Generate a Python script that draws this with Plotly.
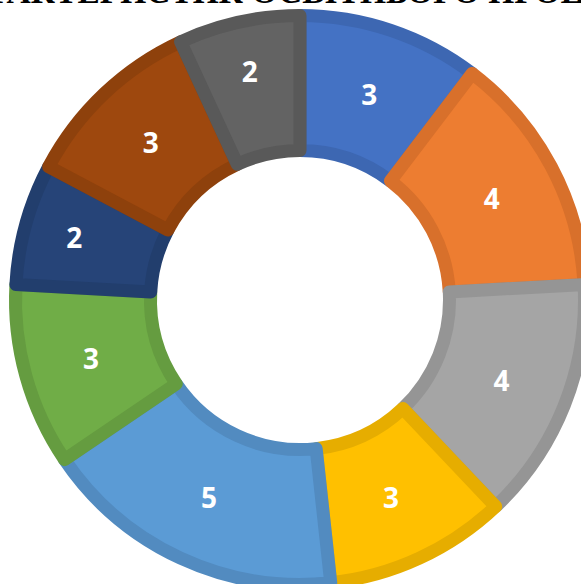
import plotly.graph_objects as go

# Data (clockwise from 12 o'clock)
categories = ["Показник 1", "Показник 2", "Показник 3", "Показник 4", "Показник 5",
              "Показник 6", "Показник 7", "Показник 8", "Показник 9"]
values = [3, 4, 4, 3, 5, 3, 2, 3, 2]
title_text = "ХАРАКТЕРИСТИК ОСВІТНЬОГО ПРОЦЕСУ"

fill_colors = ["#4472C4", "#ED7D31", "#A5A5A5", "#FFC000", "#5B9BD5",
               "#70AD47", "#264478", "#9E480E", "#636363"]
line_colors = ["#3D67B2", "#D8702B", "#959595", "#E6AD00", "#528BC0",
               "#659C40", "#223E6D", "#8E410C", "#595959"]

W, H = 600, 600
stroke = 13
cx, cy = 300, 300
r_outer_vis = 291
r_inner_vis = 143
r_geom = r_outer_vis - stroke / 2

fig = go.Figure(go.Pie(
    labels=categories,
    values=values,
    sort=False,
    direction="clockwise",
    rotation=0,
    hole=(r_inner_vis + stroke / 2) / r_geom,
    marker=dict(colors=fill_colors, line=dict(color=line_colors, width=stroke)),
    texttemplate="%{value}",
    textposition="inside",
    insidetextorientation="horizontal",
    textfont=dict(family="Open Sans", size=28, color="white", weight="bold"),
    domain=dict(x=[(cx - r_geom) / W, (cx + r_geom) / W],
                y=[1 - (cy + r_geom) / H, 1 - (cy - r_geom) / H]),
    showlegend=False,
))

fig.add_annotation(
    text="<b>" + title_text + "</b>",
    xref="paper", yref="paper",
    x=299 / W, y=1 + 8 / H,
    xanchor="center", yanchor="middle",
    showarrow=False,
    font=dict(family="Liberation Serif", size=33.5, color="black"),
)

fig.update_layout(
    width=W, height=H,
    autosize=False,
    margin=dict(l=0, r=0, t=0, b=0),
    paper_bgcolor="white",
    plot_bgcolor="white",
)

fig.write_html(
    "out.html",
    config={"displayModeBar": False},
    post_script="document.body.style.margin='0';"
                "document.documentElement.style.overflow='hidden';"
                "document.body.style.overflow='hidden';",
)
